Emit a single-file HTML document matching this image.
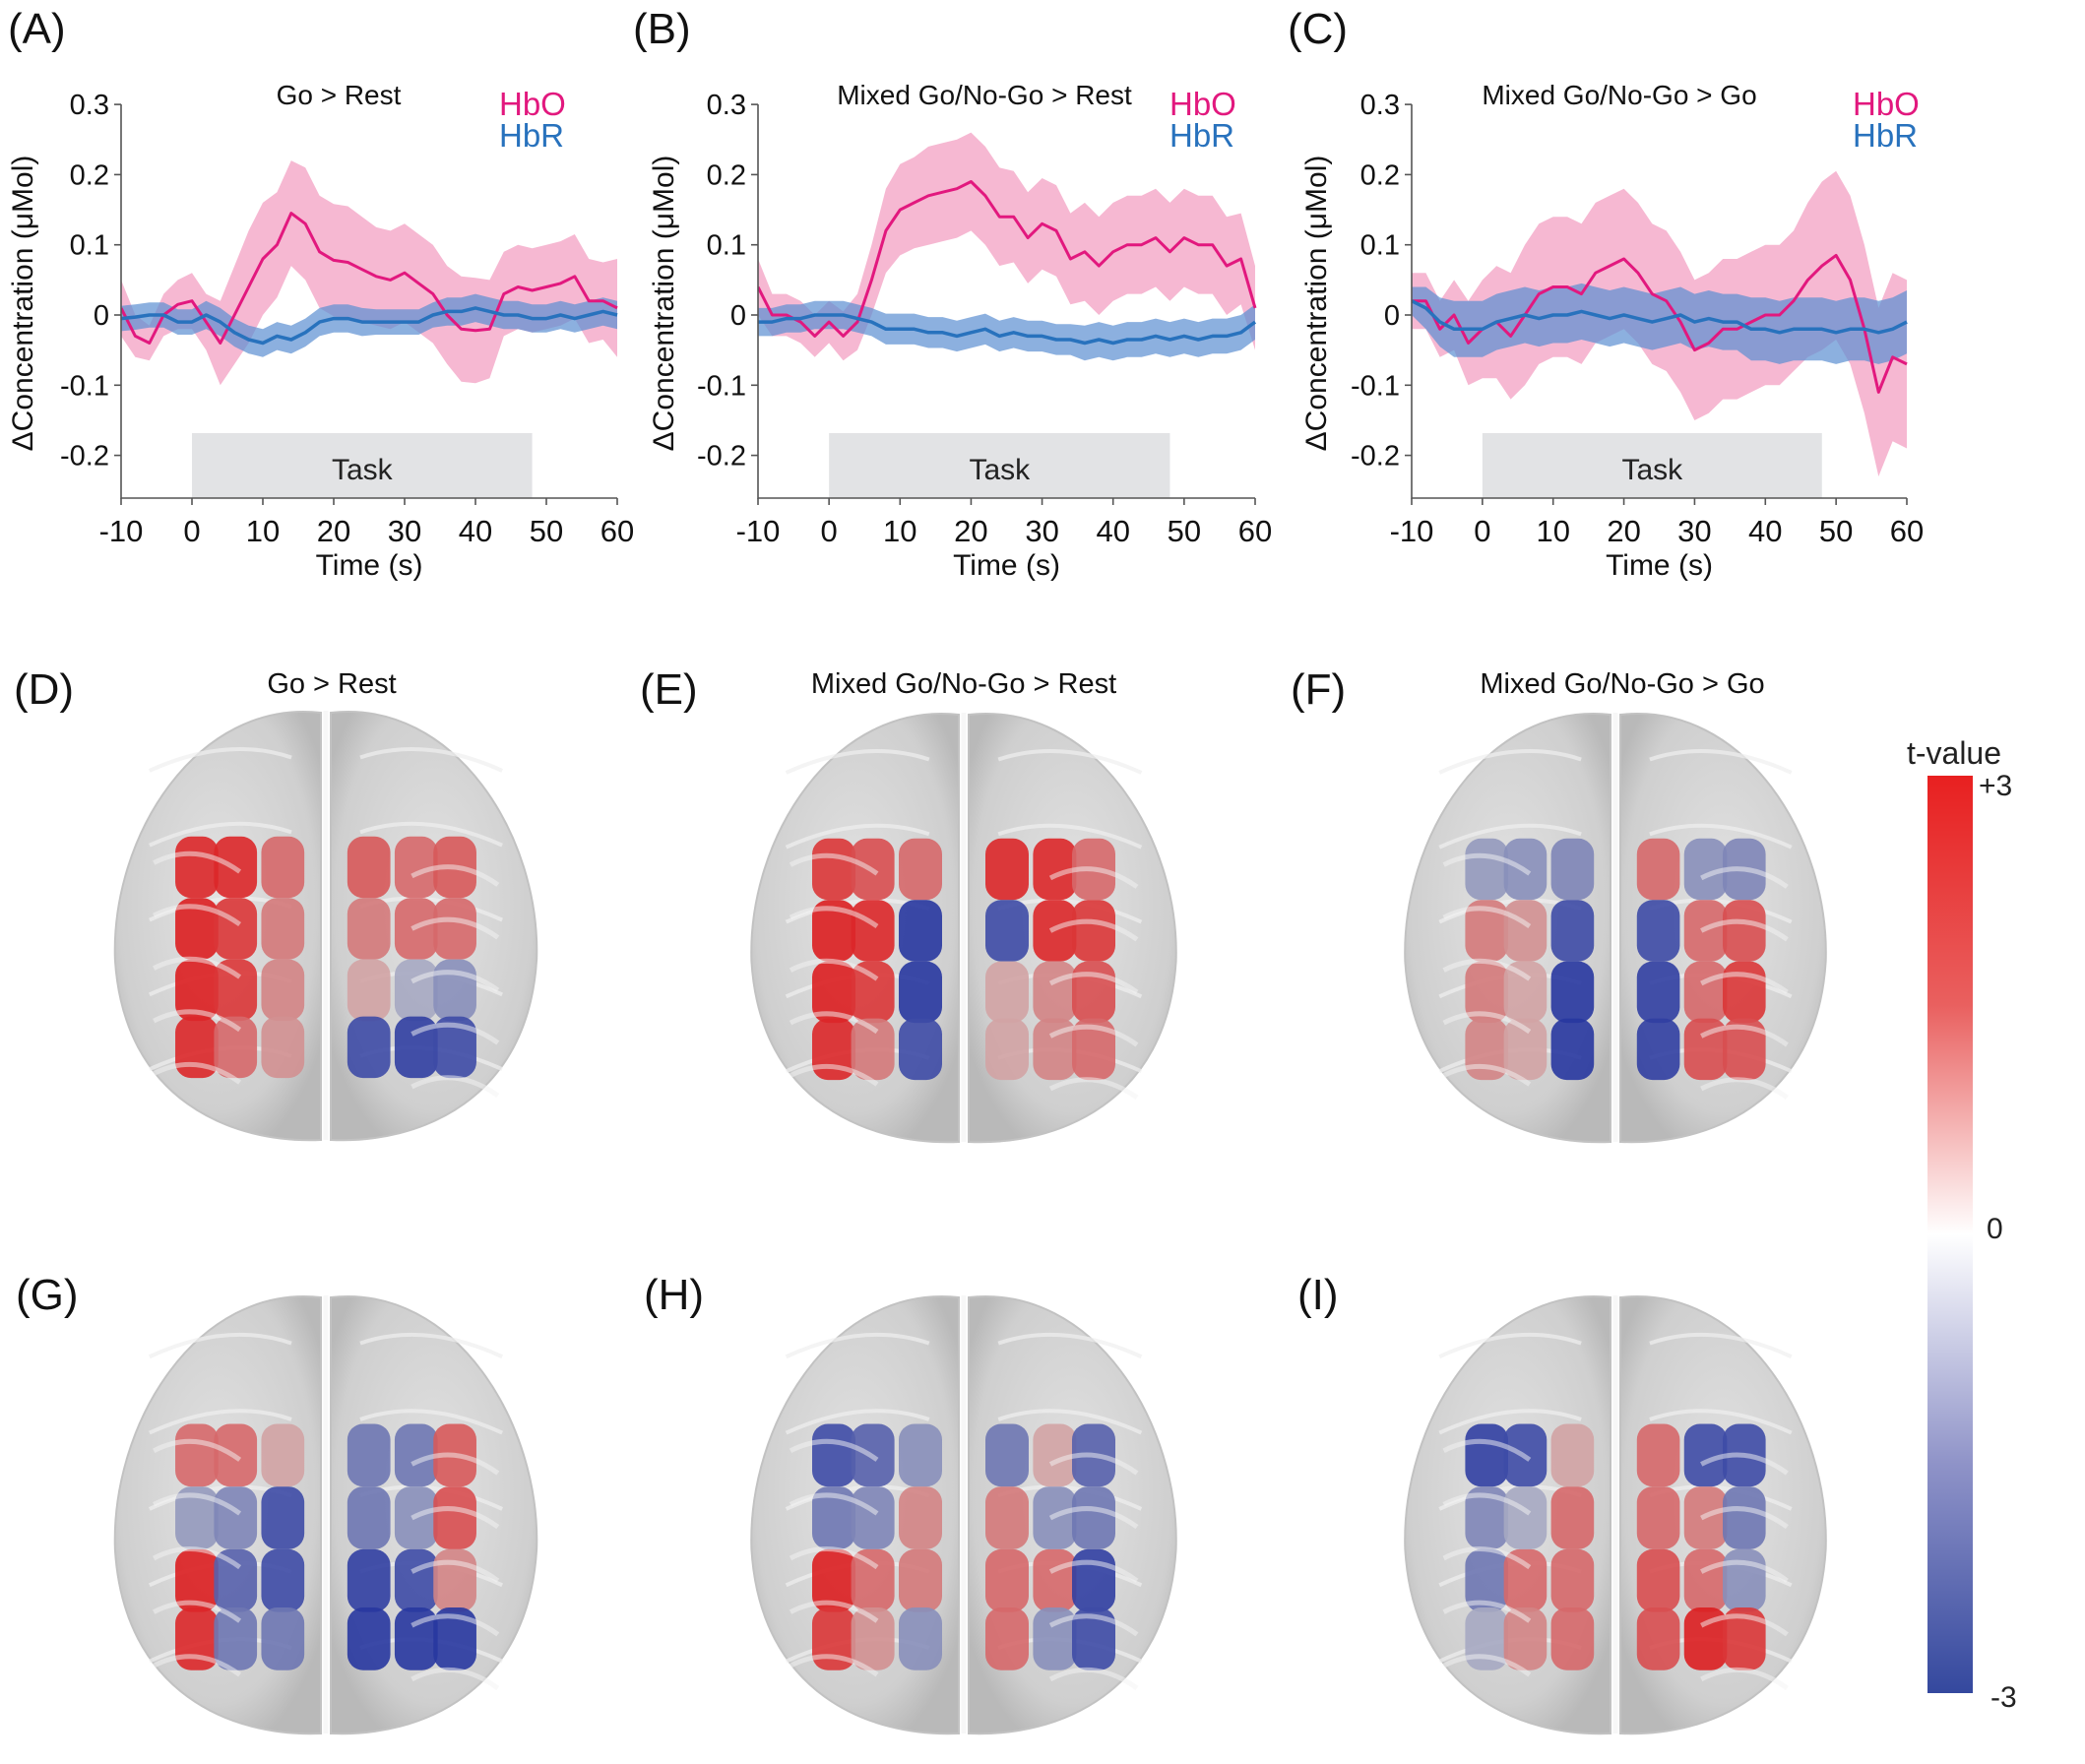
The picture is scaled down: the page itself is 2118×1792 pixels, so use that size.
<!DOCTYPE html>
<html><head><meta charset="utf-8"><style>
html,body{margin:0;padding:0;background:#fff}
svg{display:block;font-family:"Liberation Sans",Arial,sans-serif}
</style></head><body>
<svg id="fig" xmlns="http://www.w3.org/2000/svg" width="2118" height="1792" viewBox="0 0 2118 1792">
<defs>
<linearGradient id="cbar" x1="0" y1="0" x2="0" y2="1">
<stop offset="0" stop-color="#e82020"/><stop offset="0.25" stop-color="#e9605f"/><stop offset="0.5" stop-color="#ffffff"/><stop offset="0.75" stop-color="#8f93c8"/><stop offset="1" stop-color="#34489e"/>
</linearGradient>
<radialGradient id="brainG" cx="0.5" cy="0.45" r="0.6">
<stop offset="0" stop-color="#e2e2e2"/><stop offset="0.8" stop-color="#cfcfcf"/><stop offset="1" stop-color="#b9b9b9"/>
</radialGradient>
</defs>
</svg>
<script>
// ---- line chart data (time from -10 to 60 s, step 2) ----
const times = [-10,-8,-6,-4,-2,0,2,4,6,8,10,12,14,16,18,20,22,24,26,28,30,32,34,36,38,40,42,44,46,48,50,52,54,56,58,60];
const yTicks = [0.3,0.2,0.1,0,-0.1,-0.2];
const yTickLabels = ["0.3","0.2","0.1","0","-0.1","-0.2"];
const xTicks = [-10,0,10,20,30,40,50,60];
const xTickLabels = ["-10","0","10","20","30","40","50","60"];
const panelTitles = ["Go > Rest","Mixed Go/No-Go > Rest","Mixed Go/No-Go > Go"];
const A_hbo = [0.01,-0.03,-0.04,0.0,0.015,0.02,-0.01,-0.04,0.0,0.04,0.08,0.10,0.145,0.13,0.09,0.078,0.075,0.065,0.055,0.05,0.06,0.045,0.03,0.0,-0.02,-0.022,-0.02,0.03,0.04,0.035,0.04,0.045,0.055,0.02,0.02,0.01];
const A_hboErr = [0.04,0.03,0.025,0.03,0.035,0.04,0.04,0.06,0.07,0.08,0.08,0.075,0.075,0.08,0.08,0.08,0.08,0.075,0.07,0.07,0.07,0.07,0.07,0.07,0.075,0.075,0.07,0.06,0.06,0.06,0.06,0.06,0.06,0.06,0.055,0.07];
const A_hbr = [-0.005,-0.003,0.0,0.0,-0.01,-0.01,0.0,-0.01,-0.025,-0.035,-0.04,-0.03,-0.035,-0.025,-0.01,-0.005,-0.005,-0.01,-0.01,-0.01,-0.01,-0.01,0.0,0.005,0.005,0.01,0.005,0.0,0.0,-0.005,-0.005,0.0,-0.005,0.0,0.005,0.0];
const A_hbrErr = [0.018,0.018,0.018,0.018,0.018,0.018,0.02,0.02,0.02,0.02,0.02,0.02,0.02,0.02,0.02,0.02,0.02,0.02,0.018,0.018,0.018,0.018,0.018,0.02,0.02,0.02,0.02,0.02,0.02,0.02,0.02,0.02,0.02,0.02,0.02,0.02];
const B_hbo = [0.04,0.0,0.0,-0.01,-0.03,-0.01,-0.03,-0.01,0.05,0.12,0.15,0.16,0.17,0.175,0.18,0.19,0.17,0.14,0.14,0.11,0.13,0.12,0.08,0.09,0.07,0.09,0.10,0.10,0.11,0.09,0.11,0.10,0.10,0.07,0.08,0.01];
const B_hboErr = [0.04,0.03,0.03,0.03,0.03,0.03,0.035,0.04,0.05,0.06,0.065,0.065,0.07,0.07,0.07,0.07,0.07,0.07,0.065,0.065,0.065,0.065,0.065,0.07,0.07,0.07,0.07,0.07,0.07,0.07,0.07,0.07,0.07,0.07,0.065,0.06];
const B_hbr = [-0.01,-0.01,-0.005,-0.005,0.0,0.0,0.0,-0.005,-0.01,-0.02,-0.02,-0.02,-0.025,-0.025,-0.03,-0.025,-0.02,-0.03,-0.025,-0.03,-0.03,-0.035,-0.035,-0.04,-0.035,-0.04,-0.035,-0.035,-0.03,-0.035,-0.03,-0.035,-0.03,-0.03,-0.025,-0.01];
const B_hbrErr = [0.02,0.02,0.02,0.02,0.02,0.02,0.02,0.02,0.02,0.022,0.022,0.022,0.022,0.022,0.022,0.022,0.022,0.022,0.022,0.022,0.022,0.022,0.022,0.025,0.025,0.025,0.025,0.025,0.025,0.025,0.025,0.025,0.025,0.025,0.025,0.025];
const C_hbo = [0.02,0.02,-0.02,0.0,-0.04,-0.02,-0.01,-0.03,0.0,0.03,0.04,0.04,0.03,0.06,0.07,0.08,0.06,0.03,0.02,-0.01,-0.05,-0.04,-0.02,-0.02,-0.01,0.0,0.0,0.02,0.05,0.07,0.085,0.05,-0.02,-0.11,-0.06,-0.07];
const C_hboErr = [0.04,0.04,0.04,0.05,0.06,0.07,0.08,0.09,0.1,0.1,0.1,0.1,0.1,0.1,0.1,0.1,0.1,0.1,0.1,0.1,0.1,0.1,0.1,0.1,0.1,0.1,0.1,0.1,0.11,0.12,0.12,0.12,0.12,0.12,0.12,0.12];
const C_hbr = [0.02,0.01,-0.01,-0.02,-0.02,-0.02,-0.01,-0.005,0.0,-0.005,0.0,0.0,0.005,0.0,-0.005,0.0,-0.005,-0.01,-0.005,0.0,-0.01,-0.005,-0.01,-0.01,-0.02,-0.02,-0.025,-0.02,-0.02,-0.02,-0.025,-0.02,-0.02,-0.025,-0.02,-0.01];
const C_hbrErr = [0.02,0.03,0.035,0.04,0.04,0.04,0.04,0.04,0.04,0.04,0.04,0.04,0.04,0.04,0.04,0.04,0.04,0.04,0.04,0.04,0.04,0.04,0.04,0.04,0.045,0.045,0.045,0.045,0.045,0.045,0.045,0.045,0.045,0.045,0.045,0.045];
const taskStart = 0, taskEnd = 48;

// ---- brain t-value grids (rows: front->back, cols: left->right) ----
const tD = [[2.8,2.8,1.5,1.8,1.5,1.8],[3,2.5,1.2,1.2,1.5,1.5],[3,2.5,1.0,0.5,-0.5,-1],[2.8,1.5,0.8,-2.5,-2.8,-2.5]];
const tE = [[2.5,2,1.5,2.8,2.8,1.5],[3,2.8,-3,-2.5,2.8,2.5],[3,2.5,-3,0.5,1.0,2],[2.8,1.2,-2.5,0.5,1.0,1.5]];
const tF = [[-0.8,-1,-1.2,1.5,-1,-1.2],[1.2,0.8,-2.5,-2.5,1.5,2],[1.2,0.5,-3,-2.8,1.5,2.5],[1.0,0.5,-3,-2.8,2,2]];
const tG = [[1.5,1.5,0.5,-1.5,-1.5,1.8],[-0.8,-1.2,-2.5,-1.5,-1,2],[3,-2,-2.5,-2.8,-2.5,1],[2.8,-1.5,-1.5,-3,-3,-3]];
const tH = [[-2.5,-2,-1,-1.5,0.5,-2],[-1.5,-1.2,1.0,1.2,-1,-1.5],[3,1.5,1.2,1.5,1.5,-2.8],[2.5,0.8,-1,1.5,-1,-2.5]];
const tI = [[-2.8,-2.5,0.5,1.5,-2.5,-2.5],[-1.2,-0.5,1.5,1.5,1.2,-1.5],[-1.5,1.5,1.5,2,1.5,-1],[-0.5,1.0,1.5,2,3,2.5]];

const NS = "http://www.w3.org/2000/svg";
const svg = document.getElementById('fig');
function mk(tag, attrs, parent){
  const e = document.createElementNS(NS, tag);
  for (const k in attrs) e.setAttribute(k, attrs[k]);
  (parent||svg).appendChild(e);
  return e;
}
function txt(s, attrs, parent){ const e = mk('text', attrs, parent); e.textContent = s; return e; }

const Y0 = 320, PER = 713, YTOP = 106, YBOT = 506;
function drawPanel(idx, ax, ax60, hbo, hboErr, hbr, hbrErr, titleX, legX, labelX, letterX, letter){
  const g = mk('g', {});
  
  
  const xs = t => ax + (t + 10) / 70 * (ax60 - ax);
  const ys = v => Y0 - v * PER;
  const clipId = 'clip' + idx;
  const cp = mk('clipPath', {id: clipId}, g);
  mk('rect', {x: ax, y: 60, width: ax60 - ax + 4, height: YBOT - 60}, cp);
  const tb = mk('rect', {x: xs(taskStart), y: 440, width: xs(taskEnd) - xs(taskStart), height: YBOT - 440, fill: '#e2e3e5'}, g);
  
  
  const tt = txt('Task', {x: (xs(taskStart) + xs(taskEnd)) / 2, y: 487, 'font-size': 30, 'text-anchor': 'middle', fill: '#222'}, g);
  
  
  const pg = mk('g', {'clip-path': 'url(#' + clipId + ')'}, g);
  function band(m, e, fill, op, name){
    let d = '';
    times.forEach((t, i) => { d += (i ? 'L' : 'M') + xs(t).toFixed(1) + ',' + ys(m[i] + e[i]).toFixed(1); });
    for (let i = times.length - 1; i >= 0; i--) d += 'L' + xs(times[i]).toFixed(1) + ',' + ys(m[i] - e[i]).toFixed(1);
    const p = mk('path', {d: d + 'Z', fill: fill, 'fill-opacity': op}, pg);
    
    
  }
  function line(m, col, w, name){
    let d = '';
    times.forEach((t, i) => { d += (i ? 'L' : 'M') + xs(t).toFixed(1) + ',' + ys(m[i]).toFixed(1); });
    const p = mk('path', {d: d, fill: 'none', stroke: col, 'stroke-width': w, 'stroke-linejoin': 'round'}, pg);
    
    
  }
  band(hbo, hboErr, '#f5b0cd', 0.9, 'hbo-error-band');
  band(hbr, hbrErr, '#5b8fd2', 0.7, 'hbr-error-band');
  line(hbo, '#e2187e', 3, 'hbo-line');
  line(hbr, '#2872bd', 3.5, 'hbr-line');
  const axes = mk('path', {d: `M${ax},${YTOP}V${YBOT}H${ax60}`, fill: 'none', stroke: '#555', 'stroke-width': 1.6}, g);
  
  
  yTicks.forEach((v, i) => {
    mk('line', {x1: ax - 7, x2: ax, y1: ys(v), y2: ys(v), stroke: '#555', 'stroke-width': 1.6}, g);
    const l = txt(yTickLabels[i], {x: ax - 12, y: ys(v) + 10, 'font-size': 29, 'text-anchor': 'end', fill: '#111'}, g);
    
    
  });
  xTicks.forEach((v, i) => {
    mk('line', {x1: xs(v), x2: xs(v), y1: YBOT, y2: YBOT + 7, stroke: '#555', 'stroke-width': 1.6}, g);
    const l = txt(xTickLabels[i], {x: xs(v), y: 550, 'font-size': 31, 'text-anchor': 'middle', fill: '#111'}, g);
    
    
  });
  const xt = txt('Time (s)', {x: (ax + ax60) / 2, y: 584, 'font-size': 30, 'text-anchor': 'middle', fill: '#111'}, g);
  
  
  const yt = txt('ΔConcentration (μMol)', {x: 0, y: 0, 'font-size': 30, 'text-anchor': 'middle', fill: '#111', transform: `translate(${labelX},308) rotate(-90)`}, g);
  
  
  const ti = txt(panelTitles[idx], {x: titleX, y: 106, 'font-size': 28, 'text-anchor': 'middle', fill: '#111'}, g);
  
  
  const l1 = txt('HbO', {x: legX, y: 117, 'font-size': 33, fill: '#e2187e'}, g);
  
  
  const l2 = txt('HbR', {x: legX, y: 149, 'font-size': 33, fill: '#2872bd'}, g);
  
  
  const pl = txt('(' + letter + ')', {x: letterX, y: 44, 'font-size': 44, fill: '#111'}, g);
  
  
}
drawPanel(0, 123, 627, A_hbo, A_hboErr, A_hbr, A_hbrErr, 344, 507, 33, 8, 'A');
drawPanel(1, 770, 1275, B_hbo, B_hboErr, B_hbr, B_hbrErr, 1000, 1188, 684, 643, 'B');
drawPanel(2, 1434, 1937, C_hbo, C_hboErr, C_hbr, C_hbrErr, 1645, 1882, 1347, 1308, 'C');

// ---- brains ----
function tColor(t){
  const a = Math.min(1, Math.abs(t) / 3);
  const gray = [205,205,205];
  const tgt = t >= 0 ? [220,30,32] : [40,55,160];
  const c = gray.map((g, i) => Math.round(g + (tgt[i] - g) * Math.pow(a, 0.8)));
  return `rgb(${c[0]},${c[1]},${c[2]})`;
}
function drawBrain(cx, y0, w, h, grid, name){
  const g = mk('g', {});
  
  
  [-1, 1].forEach(s => {
    const d = `M${cx + s*5},${y0 + 8} C${cx + s*0.3*w},${y0 - 6} ${cx + s*0.5*w},${y0 + 0.3*h} ${cx + s*0.49*w},${y0 + 0.58*h} C${cx + s*0.47*w},${y0 + 0.9*h} ${cx + s*0.22*w},${y0 + h} ${cx + s*5},${y0 + h - 4} Z`;
    const p = mk('path', {d: d, fill: 'url(#brainG)', stroke: '#c2c2c2', 'stroke-width': 2}, g);
    
    
    for (let k = 0; k < 5; k++) {
      mk('path', {d: `M${cx + s*0.08*w},${y0 + (0.12 + k*0.17)*h} q${s*0.15*w},${-0.05*h} ${s*0.33*w},${0.03*h}`, fill: 'none', stroke: '#efefef', 'stroke-width': 4, 'stroke-opacity': 0.7}, g);
    }
  });
  const colsX = [0.2, 0.29, 0.4, 0.6, 0.71, 0.8];
  const rowsY = [0.37, 0.51, 0.65, 0.78];
  grid.forEach((row, r) => row.forEach((t, c) => {
    const bx = cx - w/2 + colsX[c]*w, by = y0 + rowsY[r]*h;
    const e = mk('rect', {x: bx - 0.05*w, y: by - 0.07*h, width: 0.1*w, height: 0.14*h, rx: 16, fill: tColor(t), 'fill-opacity': 0.9}, g);
    
    
  }));
  for (let k = 0; k < 5; k++) {
    mk('path', {d: `M${cx - 0.4*w},${y0 + (0.36 + k*0.12)*h} q${0.1*w},${-0.05*h} ${0.2*w},${0.02*h}`, fill: 'none', stroke: '#f3f3f3', 'stroke-width': 5, 'stroke-opacity': 0.5}, g);
    mk('path', {d: `M${cx + 0.2*w},${y0 + (0.39 + k*0.12)*h} q${0.1*w},${-0.05*h} ${0.2*w},${0.02*h}`, fill: 'none', stroke: '#f3f3f3', 'stroke-width': 5, 'stroke-opacity': 0.5}, g);
  }
  mk('line', {x1: cx, x2: cx, y1: y0 + 6, y2: y0 + h - 4, stroke: '#f7f7f7', 'stroke-width': 5}, g);
}
drawBrain(331, 716, 437, 446, tD, 'brain-d');
drawBrain(979, 718, 440, 446, tE, 'brain-e');
drawBrain(1641, 718, 436, 446, tF, 'brain-f');
drawBrain(331, 1310, 437, 455, tG, 'brain-g');
drawBrain(979, 1310, 440, 455, tH, 'brain-h');
drawBrain(1641, 1310, 436, 455, tI, 'brain-i');

const brainTitles = [["(D)", 14, 700, "Go > Rest", 337], ["(E)", 650, 700, "Mixed Go/No-Go > Rest", 979], ["(F)", 1311, 700, "Mixed Go/No-Go > Go", 1648]];
brainTitles.forEach(b => {
  const l = txt(b[0], {x: b[1], y: b[2] + 15, 'font-size': 44, fill: '#111'});
  
  
  const t = txt(b[3], {x: b[4], y: b[2] + 4, 'font-size': 29, 'text-anchor': 'middle', fill: '#111'});
  
  
});
[["(G)", 16], ["(H)", 654], ["(I)", 1318]].forEach(b => {
  const l = txt(b[0], {x: b[1], y: 1330, 'font-size': 44, fill: '#111'});
  
  
});

// ---- colorbar ----
const cb = mk('rect', {x: 1958, y: 788, width: 46, height: 932, fill: 'url(#cbar)'});


const cbt = txt('t-value', {x: 1985, y: 776, 'font-size': 32, 'text-anchor': 'middle', fill: '#222'});


[["+3", 2010, 808], ["0", 2018, 1258], ["-3", 2022, 1734]].forEach(c => {
  const e = txt(c[0], {x: c[1], y: c[2], 'font-size': 30, fill: '#222'});
  
  
});
</script>
</body></html>
